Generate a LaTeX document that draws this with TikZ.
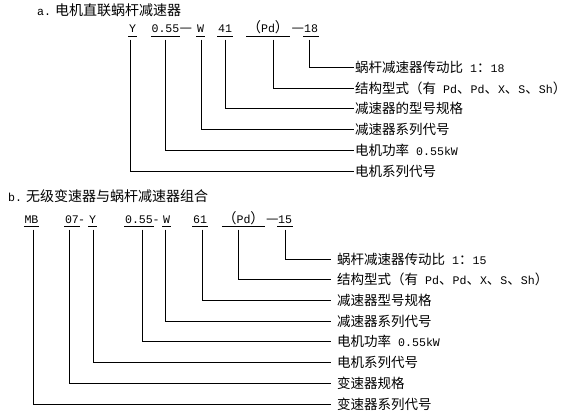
\documentclass[tikz,border=0pt]{standalone}
\usepackage{fontspec}
\setmainfont{Noto Sans CJK SC}
\newfontfamily\monofam{Liberation Mono}
\newcommand\lt[1]{{\monofam\fontsize{11.6}{14}\selectfont #1}}

\begin{document}
\begin{tikzpicture}[x=1pt, y=-1pt, font=\fontsize{14}{16}\selectfont,
  lead/.style={draw=black, line width=0.8pt},
  tok/.style={inner xsep=0.5pt, inner ysep=0pt, text height=9pt, text depth=3pt, anchor=base,
        append after command={(\tikzlastnode.south west) edge[lead] (\tikzlastnode.south east)}},
  sep/.style={inner sep=0pt, anchor=base},
  tit/.style={inner sep=0pt, anchor=west},
  laba/.style={anchor=west, inner xsep=1pt, inner ysep=0pt, font=\fontsize{13.5}{15}\selectfont},
  labb/.style={laba, inner xsep=6pt},
]
  \useasboundingbox (0,0) rectangle (565,412);
  % a
  \node[tit] (ta) at (37,10) {\lt{a.}\hspace{4pt}电机直联蜗杆减速器};
  \node[tok] (ay) at (132.5,33) {\lt{Y}};
  \node[tok] (a055) at (165.5,33) {\lt{0.55}};
  \node[sep] (ad1) at (186,33) {—};
  \node[tok] (aw) at (200.5,33) {\lt{W}};
  \node[tok] (a41) at (225,33) {\lt{41}};
  \node[tok] (apd) at (268,33) {（\lt{Pd}）};
  \node[sep] (ad2) at (298,33) {—};
  \node[tok] (a18) at (311,33) {\lt{18}};
  \node[laba] (a1) at (354,67) {蜗杆减速器传动比\lt{\ 1}：\lt{18}};
  \node[laba] (a2) at (354,88) {结构型式（有\lt{\ Pd}、\lt{Pd}、\lt{X}、\lt{S}、\lt{Sh}）};
  \node[laba] (a3) at (354,108.5) {减速器的型号规格};
  \node[laba] (a4) at (354,129.5) {减速器系列代号};
  \node[laba] (a5) at (354,150.5) {电机功率\lt{\ 0.55kW}};
  \node[laba] (a6) at (354,171) {电机系列代号};
  % b
  \node[tit] (tb) at (8,196) {\lt{b.}\hspace{4pt}无级变速器与蜗杆减速器组合};
  \node[tok] (bmb) at (31.5,223) {\lt{MB}};
  \node[tok] (b07) at (72,223) {\lt{07}};
  \node[sep] (bh1) at (81.5,223) {\lt{-}};
  \node[tok] (by) at (92.5,223) {\lt{Y}};
  \node[tok] (b055) at (139,223) {\lt{0.55}};
  \node[sep] (bh2) at (156,223) {\lt{-}};
  \node[tok] (bw) at (166.5,223) {\lt{W}};
  \node[tok] (b61) at (200,223) {\lt{61}};
  \node[tok] (bpd) at (243.5,223) {（\lt{Pd}）};
  \node[sep] (bd) at (272.5,223) {—};
  \node[tok] (b15) at (285,223) {\lt{15}};
  \node[labb] (b1) at (331,259) {蜗杆减速器传动比\lt{\ 1}：\lt{15}};
  \node[labb] (b2) at (331,279.7) {结构型式（有\lt{\ Pd}、\lt{Pd}、\lt{X}、\lt{S}、\lt{Sh}）};
  \node[labb] (b3) at (331,300.4) {减速器型号规格};
  \node[labb] (b4) at (331,321.1) {减速器系列代号};
  \node[labb] (b5) at (331,341.8) {电机功率\lt{\ 0.55kW}};
  \node[labb] (b6) at (331,362.5) {电机系列代号};
  \node[labb] (b7) at (331,383.2) {变速器规格};
  \node[labb] (b8) at (331,404) {变速器系列代号};
  % leads
  \foreach \t/\dx/\l in {a18/-2/a1, apd/5/a2, a41/0/a3, aw/0.5/a4, a055/-0.5/a5, ay/-2.5/a6,
      b15/0/b1, bpd/-5.5/b2, b61/2/b3, bw/-1.5/b4, b055/3/b5, by/0.5/b6, b07/-3/b7, bmb/1.5/b8}
    \draw[lead, shorten <=3.5pt] ([xshift=\dx pt]\t.south) |- (\l.west);
\end{tikzpicture}
\end{document}
